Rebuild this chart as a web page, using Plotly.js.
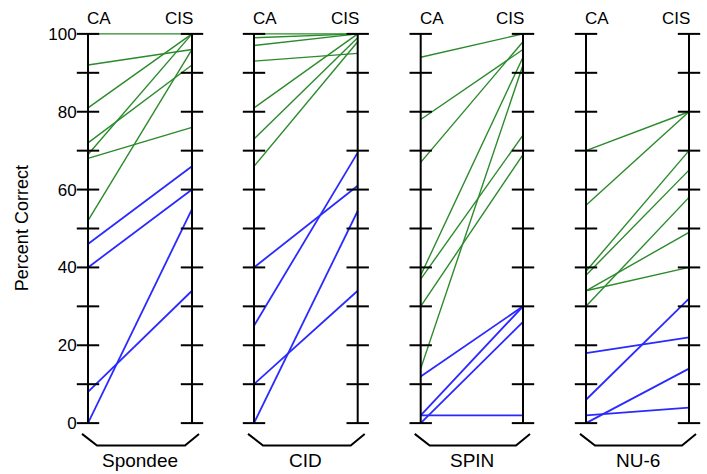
<!DOCTYPE html>
<html>
<head>
<meta charset="utf-8">
<script src="https://cdn.plot.ly/plotly-3.0.1.min.js"></script>
<style>html,body{margin:0;padding:0;background:#fff;}#chart{width:707px;height:474px;}</style>
</head>
<body>
<div id="chart"></div>
<script>
// ---- data ----
const tests = ['Spondee', 'CID', 'SPIN', 'NU-6'];
const conditions = ['CA', 'CIS'];
const tickValues = [0, 10, 20, 30, 40, 50, 60, 70, 80, 90, 100];
const labelValues = [0, 20, 40, 60, 80, 100];

const spondeeGreenCA  = [100, 92, 81, 72, 69, 68, 52];
const spondeeGreenCIS = [100, 96, 100, 92, 100, 76, 96];
const spondeeBlueCA   = [46, 40, 8, 0];
const spondeeBlueCIS  = [66, 60, 34, 55];

const cidGreenCA  = [100, 99, 97, 93, 81, 73, 66];
const cidGreenCIS = [100, 100, 100, 95, 100, 99, 98];
const cidBlueCA   = [40, 25, 10, 0];
const cidBlueCIS  = [61, 69.5, 34, 54.5];

const spinGreenCA  = [94, 78, 67, 38, 37, 30, 14];
const spinGreenCIS = [100, 96, 98, 94, 74, 69, 92];
const spinBlueCA   = [12, 2, 0, 2];
const spinBlueCIS  = [30, 30, 26, 2];

const nu6GreenCA  = [70, 56, 39, 38, 34, 34, 30];
const nu6GreenCIS = [80, 80, 70, 65, 49, 40, 58];
const nu6BlueCA   = [18, 6, 2, 0];
const nu6BlueCIS  = [22, 32, 4, 14];

const greenCA  = [spondeeGreenCA, cidGreenCA, spinGreenCA, nu6GreenCA];
const greenCIS = [spondeeGreenCIS, cidGreenCIS, spinGreenCIS, nu6GreenCIS];
const blueCA   = [spondeeBlueCA, cidBlueCA, spinBlueCA, nu6BlueCA];
const blueCIS  = [spondeeBlueCIS, cidBlueCIS, spinBlueCIS, nu6BlueCIS];

// ---- layout geometry (pixels) ----
const W = 707, H = 474;
const caPx  = [88, 254, 420.7, 586];
const cisPx = [192, 357.7, 523, 689];
const yTopPx = 34, yBotPx = 422.7;
const pad = 0.1;
const pxPerUnit = (yBotPx - yTopPx) / 100;
const mT = yTopPx - pxPerUnit;
const mB = H - (yBotPx + pxPerUnit);
const plotH = H - mT - mB;
const paperY = p => (H - mB - p) / plotH;

const GREEN = '#2b8a2b';
const BLUE = '#2a2aff';
const FONT = 'Liberation Sans, Arial, Helvetica, sans-serif';

function segs(a, b) {
  const x = [], y = [];
  for (let i = 0; i < a.length; i++) {
    x.push(conditions[0], conditions[1], null);
    y.push(a[i], b[i], null);
  }
  return {x, y};
}

const traces = [];
const layout = {
  width: W, height: H,
  margin: {l: 0, r: 0, t: mT, b: mB, pad: 0},
  paper_bgcolor: '#ffffff', plot_bgcolor: '#ffffff',
  showlegend: false,
  font: {family: FONT, color: '#000', size: 17},
  yaxis: {
    range: [-1, 101], anchor: 'free', position: caPx[0] / W,
    showgrid: false, zeroline: false, showline: false,
    tickvals: labelValues, ticks: 'outside', ticklen: 8, tickcolor: 'rgba(0,0,0,0)',
    tickfont: {family: FONT, size: 17, color: '#000'}
  },
  shapes: [], annotations: []
};

tests.forEach((name, p) => {
  const xa = p === 0 ? 'x' : 'x' + (p + 1);
  const xaKey = p === 0 ? 'xaxis' : 'xaxis' + (p + 1);
  const w = cisPx[p] - caPx[p];
  const d0 = caPx[p] - pad * w, d1 = cisPx[p] + pad * w;
  layout[xaKey] = {
    type: 'category', categoryarray: conditions, categoryorder: 'array',
    range: [-pad, 1 + pad], domain: [d0 / W, d1 / W], anchor: 'y',
    visible: false, showgrid: false, zeroline: false
  };
  const g = segs(greenCA[p], greenCIS[p]);
  traces.push({type: 'scatter', mode: 'lines', xaxis: xa, yaxis: 'y', x: g.x, y: g.y,
    line: {color: GREEN, width: 1.4}, hoverinfo: 'skip', cliponaxis: false});
  const b = segs(blueCA[p], blueCIS[p]);
  traces.push({type: 'scatter', mode: 'lines', xaxis: xa, yaxis: 'y', x: b.x, y: b.y,
    line: {color: BLUE, width: 1.8}, hoverinfo: 'skip', cliponaxis: false});
  conditions.forEach(c => {
    traces.push({type: 'scatter', mode: 'lines', xaxis: xa, yaxis: 'y',
      x: [c, c], y: [tickValues[0], tickValues[tickValues.length - 1]],
      line: {color: '#000', width: 2}, hoverinfo: 'skip', cliponaxis: false});
    traces.push({type: 'scatter', mode: 'markers', xaxis: xa, yaxis: 'y',
      x: tickValues.map(() => c), y: tickValues,
      marker: {symbol: 'line-ew', size: 16, color: '#000', line: {color: '#000', width: 2}},
      hoverinfo: 'skip', cliponaxis: false});
  });
  // top labels
  layout.annotations.push({xref: xa, yref: 'y', x: conditions[0], y: 100, xanchor: 'left', yanchor: 'middle',
    xshift: -3, yshift: 15.5, text: conditions[0], showarrow: false, font: {family: FONT, size: 17, color: '#000'}});
  layout.annotations.push({xref: xa, yref: 'y', x: conditions[1], y: 100, xanchor: 'right', yanchor: 'middle',
    xshift: 3, yshift: 15.5, text: conditions[1], showarrow: false, font: {family: FONT, size: 17, color: '#000'}});
  // bottom label
  layout.annotations.push({xref: xa + ' domain', yref: 'paper', x: 0.5, y: paperY(460.5), xanchor: 'center', yanchor: 'middle',
    text: name, showarrow: false, font: {family: FONT, size: 19, color: '#000'}});
  // bracket
  const fx = px => (px - d0) / (d1 - d0);
  const yA = paperY(433.5), yB = paperY(445);
  const pts = [[caPx[p] - 6, yA], [caPx[p] + 9, yB], [cisPx[p] - 7, yB], [cisPx[p] + 7, yA]];
  layout.shapes.push({type: 'path', xref: xa + ' domain', yref: 'paper',
    path: 'M ' + pts.map(q => fx(q[0]).toFixed(4) + ',' + q[1].toFixed(4)).join(' L '),
    line: {color: '#000', width: 2}});
});

layout.annotations.push({xref: 'paper', yref: 'paper', x: 22 / W, y: paperY(228), xanchor: 'center', yanchor: 'middle',
  textangle: -90, text: 'Percent Correct', showarrow: false, font: {family: FONT, size: 18, color: '#000'}});

Plotly.newPlot('chart', traces, layout, {staticPlot: true, displayModeBar: false});
</script>
</body>
</html>
